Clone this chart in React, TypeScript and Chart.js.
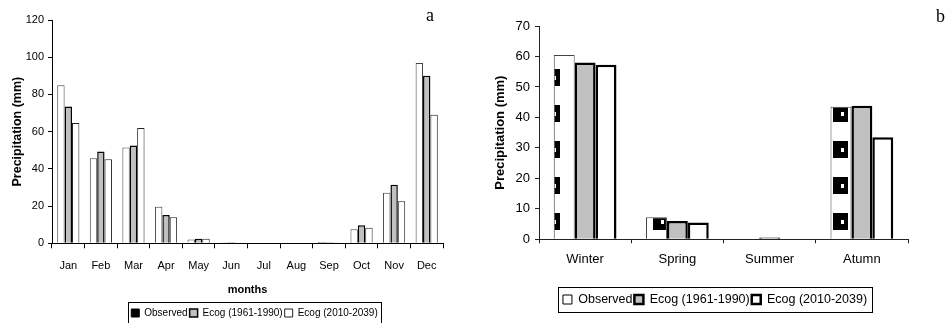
import React, { useEffect, useRef } from 'react';
import { Chart, registerables } from 'chart.js';

Chart.register(...registerables);

// ---- data: monthly chart (a) ----
const months = ['Jan', 'Feb', 'Mar', 'Apr', 'May', 'Jun', 'Jul', 'Aug', 'Sep', 'Oct', 'Nov', 'Dec'];
const monthlyObserved = [85.0, 45.7, 51.5, 19.7, 2.1, 0.2, 0, 0, 0.7, 7.5, 27.2, 96.9];
const monthlyEcog1961 = [73.5, 49.3, 52.5, 15.2, 2.5, 0.6, 0, 0, 0.6, 9.7, 31.4, 90.0];
const monthlyEcog2010 = [64.6, 45.2, 61.9, 14.0, 2.5, 0, 0, 0, 0.4, 8.4, 22.6, 69.1];
const monthlyYTicks = [0, 20, 40, 60, 80, 100, 120];

// ---- data: seasonal chart (b) ----
const seasons = ['Winter', 'Spring', 'Summer', 'Atumn'];
const seasonalObserved = [60.5, 7.2, 0, 43.5];
const seasonalEcog1961 = [58.0, 6.0, 0.6, 43.8];
const seasonalEcog2010 = [57.3, 5.5, 0, 33.5];
const seasonalYTicks = [0, 10, 20, 30, 40, 50, 60, 70];

const seriesLabels = ['Observed', 'Ecog (1961-1990)', 'Ecog (2010-2039)'];

const NARROW = '"Liberation Sans Narrow", "Arial Narrow", "Liberation Sans", Arial, sans-serif';
const SANS = '"Liberation Sans", Arial, Helvetica, sans-serif';

function legendFrame(dx: number, padX: number, halfH: number, color: string) {
  return {
    id: 'legendFrame',
    afterLayout(chart: any) {
      const lg = chart.legend;
      if (lg) {
        lg.left += dx;
        lg.right += dx;
      }
    },
    afterDraw(chart: any) {
      const lg = chart.legend;
      const hb = lg && lg.legendHitBoxes;
      if (!hb || !hb.length) return;
      const first = hb[0];
      const last = hb[hb.length - 1];
      const cy = first.top + first.height / 2;
      const x0 = Math.round(first.left - padX) + 0.5;
      const x1 = Math.round(last.left + last.width + padX) + 0.5;
      const y0 = Math.round(cy - halfH) + 0.5;
      const y1 = Math.round(cy + halfH) + 0.5;
      const ctx = chart.ctx;
      ctx.save();
      ctx.strokeStyle = color;
      ctx.lineWidth = 1;
      ctx.strokeRect(x0, y0, x1 - x0, y1 - y0);
      ctx.restore();
    },
  };
}

function makeObservedPattern(ctx: CanvasRenderingContext2D): CanvasPattern | string {
  const tile = document.createElement('canvas');
  tile.width = 36;
  tile.height = 36;
  const c = tile.getContext('2d');
  if (!c) return '#fff';
  c.fillStyle = '#fff';
  c.fillRect(0, 0, 36, 36);
  c.fillStyle = '#000';
  c.fillRect(0, 0, 15, 17);
  c.fillStyle = '#fff';
  c.fillRect(8, 7, 3, 4);
  const p = ctx.createPattern(tile, 'repeat');
  if (!p) return '#fff';
  try {
    p.setTransform(new DOMMatrix().translate(23, 33));
  } catch (e) {
    /* ignore */
  }
  return p;
}

export default function App() {
  const leftRef = useRef<HTMLCanvasElement>(null);
  const rightRef = useRef<HTMLCanvasElement>(null);

  useEffect(() => {
    const lc = leftRef.current!;
    const rc = rightRef.current!;

    const left = new Chart(lc, {
      type: 'bar',
      data: {
        labels: months,
        datasets: [
          { label: seriesLabels[0], data: monthlyObserved, backgroundColor: '#ffffff', borderColor: '#444444', borderWidth: 1 },
          { label: seriesLabels[1], data: monthlyEcog1961, backgroundColor: '#c0c0c0', borderColor: '#000000', borderWidth: 1.5 },
          { label: seriesLabels[2], data: monthlyEcog2010, backgroundColor: '#ffffff', borderColor: '#222222', borderWidth: 1 },
        ],
      },
      options: {
        responsive: false,
        maintainAspectRatio: false,
        animation: false,
        devicePixelRatio: 1,
        layout: { padding: { left: 0, right: 7, top: 20, bottom: 2 } },
        datasets: { bar: { categoryPercentage: 0.68, barPercentage: 1.0 } },
        plugins: {
          tooltip: { enabled: false },
          legend: {
            position: 'bottom',
            labels: {
              color: '#000',
              font: { family: NARROW, size: 10 },
              boxWidth: 8,
              boxHeight: 8,
              padding: 2,
              generateLabels: (chart: any) => {
                const items = Chart.defaults.plugins.legend.labels.generateLabels(chart);
                items[0].fillStyle = '#000';
                items[0].strokeStyle = '#000';
                return items;
              },
            },
          },
        },
        scales: {
          x: {
            grid: { display: true, drawOnChartArea: false, drawTicks: true, tickLength: 5, color: '#000', offset: true },
            border: { display: true, color: '#000', width: 1 },
            ticks: { color: '#000', font: { family: NARROW, size: 11 }, padding: 11, maxRotation: 0, autoSkip: false },
            title: {
              display: true,
              text: 'months',
              color: '#000',
              font: { family: NARROW, size: 11, weight: 'bold' },
              padding: { top: 0, bottom: 9 },
            },
            afterFit: (s: any) => {
              s.height = 62.7;
            },
          },
          y: {
            min: monthlyYTicks[0],
            max: monthlyYTicks[monthlyYTicks.length - 1],
            grid: { display: true, drawOnChartArea: false, drawTicks: true, tickLength: 4, color: '#000' },
            border: { display: true, color: '#000', width: 1 },
            ticks: { stepSize: monthlyYTicks[1] - monthlyYTicks[0], color: '#000', font: { family: NARROW, size: 11 }, padding: 4 },
            title: {
              display: true,
              text: 'Precipitation (mm)',
              color: '#000',
              font: { family: SANS, size: 12.5, weight: 'bold' },
              padding: { top: 10, bottom: 0 },
            },
            afterFit: (s: any) => {
              s.width = 52;
            },
          },
        },
      },
      plugins: [legendFrame(33, 3, 11, '#000')],
    } as any);

    const rctx = rc.getContext('2d')!;
    const pattern = makeObservedPattern(rctx);

    const right = new Chart(rc, {
      type: 'bar',
      data: {
        labels: seasons,
        datasets: [
          { label: seriesLabels[0], data: seasonalObserved, backgroundColor: pattern, borderColor: '#444444', borderWidth: 1 },
          { label: seriesLabels[1], data: seasonalEcog1961, backgroundColor: '#c0c0c0', borderColor: '#000000', borderWidth: 2.5 },
          { label: seriesLabels[2], data: seasonalEcog2010, backgroundColor: '#ffffff', borderColor: '#000000', borderWidth: 2.5 },
        ],
      },
      options: {
        responsive: false,
        maintainAspectRatio: false,
        animation: false,
        devicePixelRatio: 1,
        layout: { padding: { left: 0, right: 43, top: 26, bottom: 7.25 } },
        datasets: { bar: { categoryPercentage: 0.68, barPercentage: 1.0 } },
        plugins: {
          tooltip: { enabled: false },
          legend: {
            position: 'bottom',
            labels: {
              color: '#000',
              font: { family: SANS, size: 12.5 },
              boxWidth: 9,
              boxHeight: 9,
              padding: 2,
              generateLabels: (chart: any) => {
                const items = Chart.defaults.plugins.legend.labels.generateLabels(chart);
                items[0].fillStyle = '#ffffff';
                items[0].strokeStyle = '#000';
                return items;
              },
            },
          },
        },
        scales: {
          x: {
            grid: { display: true, drawOnChartArea: false, drawTicks: true, tickLength: 4, color: '#222', offset: true },
            border: { display: true, color: '#222', width: 1 },
            ticks: { color: '#000', font: { family: SANS, size: 13 }, padding: 8, maxRotation: 0, autoSkip: false },
            afterFit: (s: any) => {
              s.height = 51.95;
            },
          },
          y: {
            min: seasonalYTicks[0],
            max: seasonalYTicks[seasonalYTicks.length - 1],
            grid: { display: true, drawOnChartArea: false, drawTicks: true, tickLength: 4, color: '#222' },
            border: { display: true, color: '#222', width: 1 },
            ticks: { stepSize: seasonalYTicks[1] - seasonalYTicks[0], color: '#000', font: { family: SANS, size: 13 }, padding: 5 },
            title: {
              display: true,
              text: 'Precipitation (mm)',
              color: '#000',
              font: { family: SANS, size: 13, weight: 'bold' },
              padding: { top: 43, bottom: 0 },
            },
            afterFit: (s: any) => {
              s.width = 89;
            },
          },
        },
      },
      plugins: [legendFrame(36, 5, 12.5, '#000')],
    } as any);

    return () => {
      left.destroy();
      right.destroy();
    };
  }, []);

  const serif = '"Liberation Serif", "Times New Roman", serif';
  return (
    <div style={{ position: 'absolute', left: 0, top: 0, width: 951, height: 323, overflow: 'hidden', background: '#fff' }}>
      <canvas ref={leftRef} width={450} height={330} style={{ position: 'absolute', left: 0, top: 0 }} />
      <canvas ref={rightRef} width={501} height={323} style={{ position: 'absolute', left: 450, top: 0 }} />
      <div style={{ position: 'absolute', left: 426, top: 6, fontFamily: serif, fontSize: 18, lineHeight: '18px', color: '#000' }}>a</div>
      <div style={{ position: 'absolute', left: 936, top: 7, fontFamily: serif, fontSize: 18, lineHeight: '18px', color: '#000' }}>b</div>
    </div>
  );
}
